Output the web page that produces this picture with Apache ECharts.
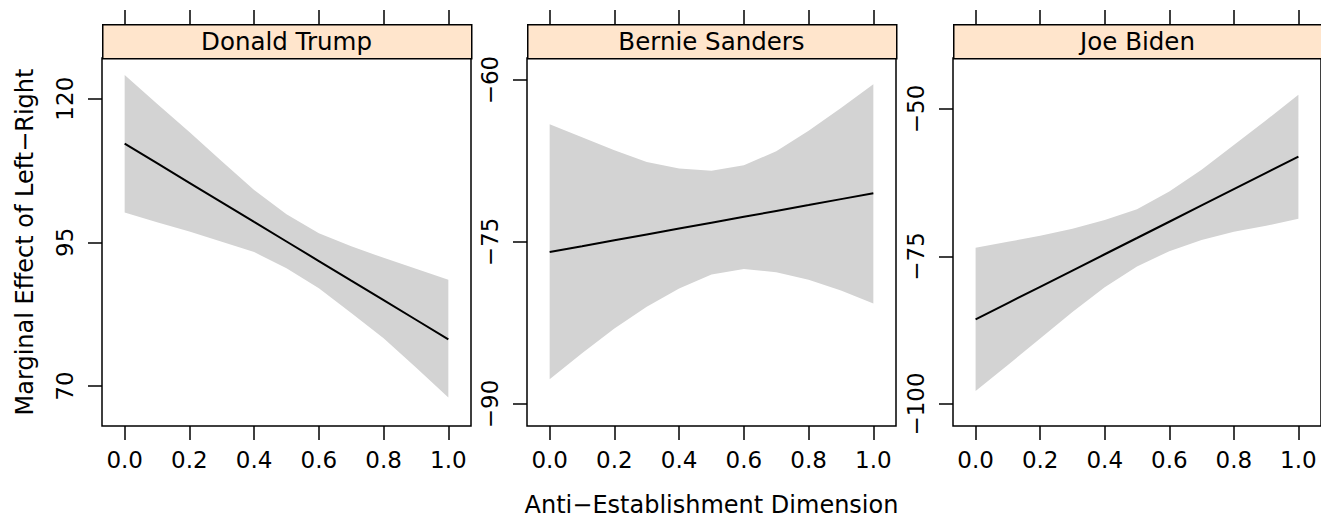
<!DOCTYPE html>
<html>
<head>
<meta charset="utf-8">
<script src="https://cdn.jsdelivr.net/npm/echarts@6/dist/echarts.min.js"></script>
<style>
html,body{margin:0;padding:0;background:#fff;}
#chart{width:1321px;height:523px;}
</style>
</head>
<body>
<div id="chart"></div>
<script>
// ---- data ----
const panels = ['Donald Trump', 'Bernie Sanders', 'Joe Biden'];
const xs = [0, 0.1, 0.2, 0.3, 0.4, 0.5, 0.6, 0.7, 0.8, 0.9, 1.0];
const xTicks = [0, 0.2, 0.4, 0.6, 0.8, 1.0];

const trumpFit   = [112.17, 108.77, 105.36, 101.96, 98.55, 95.15, 91.75, 88.34, 84.94, 81.53, 78.13];
const trumpUpper = [124.1, 119.1, 114.2, 109.1, 104.1, 99.9, 96.6, 94.3, 92.3, 90.4, 88.5];
const trumpLower = [100.2, 98.5, 96.9, 95.1, 93.3, 90.5, 87.0, 82.7, 78.3, 73.2, 68.0];

const sandersFit   = [-75.93, -75.39, -74.84, -74.30, -73.75, -73.21, -72.67, -72.12, -71.58, -71.03, -70.49];
const sandersUpper = [-64.1, -65.3, -66.5, -67.6, -68.2, -68.4, -67.9, -66.6, -64.7, -62.6, -60.4];
const sandersLower = [-87.7, -85.3, -83.0, -81.0, -79.3, -78.0, -77.5, -77.8, -78.5, -79.5, -80.7];

const bidenFit   = [-85.65, -82.89, -80.14, -77.38, -74.62, -71.87, -69.11, -66.35, -63.59, -60.84, -58.08];
const bidenUpper = [-73.5, -72.5, -71.5, -70.3, -68.8, -67.0, -64.0, -60.3, -56.1, -51.9, -47.6];
const bidenLower = [-97.8, -93.4, -88.9, -84.4, -80.2, -76.7, -74.1, -72.2, -70.8, -69.8, -68.6];

const yTicks = [[70, 95, 120], [-90, -75, -60], [-100, -75, -50]];
const yRanges = [[63.04, 127.08], [-92.04, -57.96], [-103.73, -41.36]];
const xRange = [-0.07, 1.07];

const fits = [trumpFit, sandersFit, bidenFit];
const uppers = [trumpUpper, sandersUpper, bidenUpper];
const lowers = [trumpLower, sandersLower, bidenLower];

// ---- layout ----
const FONT = 'DejaVu Sans';
const lefts = [102, 527, 953];
const W = 369, TOP = 58, H = 368, STRIP = 34;

const chart = echarts.init(document.getElementById('chart'), null, {renderer: 'svg'});

const grids = [], xAxes = [], yAxes = [], series = [], graphics = [];
const tickStyle = {color: '#000', width: 1.5};

panels.forEach(function (name, i) {
  grids.push({left: lefts[i], top: TOP, width: W, height: H, show: true,
    borderColor: '#000', borderWidth: 1.5, backgroundColor: 'transparent', containLabel: false});
  xAxes.push({type: 'value', gridIndex: i, position: 'bottom', min: xRange[0], max: xRange[1],
    axisLine: {show: false, onZero: false}, splitLine: {show: false},
    axisTick: {show: true, length: 14, inside: false, customValues: xTicks, lineStyle: tickStyle},
    axisLabel: {show: true, margin: 22, customValues: xTicks, color: '#000', fontFamily: FONT, fontSize: 23,
      formatter: function (v) { return v.toFixed(1); }},
    name: i === 1 ? 'Anti\u2212Establishment Dimension' : '',
    nameLocation: 'middle', nameGap: 67,
    nameTextStyle: {color: '#000', fontFamily: FONT, fontSize: 24}
  });
  xAxes.push({type: 'value', gridIndex: i, position: 'top', offset: STRIP, min: xRange[0], max: xRange[1],
    axisLine: {show: false, onZero: false}, splitLine: {show: false},
    axisTick: {show: true, length: 14, inside: false, customValues: xTicks, lineStyle: tickStyle},
    axisLabel: {show: false}
  });
  yAxes.push({type: 'value', gridIndex: i, position: 'left', min: yRanges[i][0], max: yRanges[i][1],
    axisLine: {show: false, onZero: false}, splitLine: {show: false},
    axisTick: {show: true, length: 14, inside: false, customValues: yTicks[i], lineStyle: tickStyle},
    axisLabel: {show: true, rotate: 90, margin: 26, customValues: yTicks[i], color: '#000',
      fontFamily: FONT, fontSize: 23,
      formatter: function (v) { return String(v).replace('-', '\u2212'); }}
  });

  const up = uppers[i], lo = lowers[i];
  series.push({
    type: 'custom', xAxisIndex: 2 * i, yAxisIndex: i, silent: true, z: 1,
    data: xs.map(function (x, k) { return [x, lo[k], up[k]]; }),
    encode: {x: 0, y: [1, 2]},
    renderItem: function (params, api) {
      if (params.dataIndex !== 0) return null;
      const pts = [];
      for (let k = 0; k < xs.length; k++) pts.push(api.coord([xs[k], up[k]]));
      for (let k = xs.length - 1; k >= 0; k--) pts.push(api.coord([xs[k], lo[k]]));
      return {type: 'polygon', shape: {points: pts}, style: {fill: '#d3d3d3', stroke: null}};
    }
  });
  series.push({
    type: 'line', xAxisIndex: 2 * i, yAxisIndex: i, z: 3, silent: true,
    data: xs.map(function (x, k) { return [x, fits[i][k]]; }),
    showSymbol: false, symbol: 'none',
    lineStyle: {color: '#000', width: 2}
  });

  graphics.push({type: 'rect', left: lefts[i], top: TOP - STRIP, z: 10,
    shape: {x: 0, y: 0, width: W, height: STRIP},
    style: {fill: '#ffe5cc', stroke: '#000', lineWidth: 1.5}});
  graphics.push({type: 'text', x: lefts[i] + W / 2, y: TOP - STRIP / 2, z: 11,
    style: {text: name, fontFamily: FONT, fontSize: 24.5, fill: '#000',
      align: 'center', verticalAlign: 'middle'}});
});

graphics.push({type: 'text', x: 25, y: TOP + H / 2, rotation: Math.PI / 2, z: 11,
  style: {text: 'Marginal Effect of Left\u2212Right', fontFamily: FONT, fontSize: 24, fill: '#000',
    align: 'center', verticalAlign: 'middle'}});

chart.setOption({
  animation: false,
  backgroundColor: '#fff',
  textStyle: {fontFamily: FONT},
  grid: grids,
  xAxis: xAxes,
  yAxis: yAxes,
  series: series,
  graphic: graphics
});
</script>
</body>
</html>
